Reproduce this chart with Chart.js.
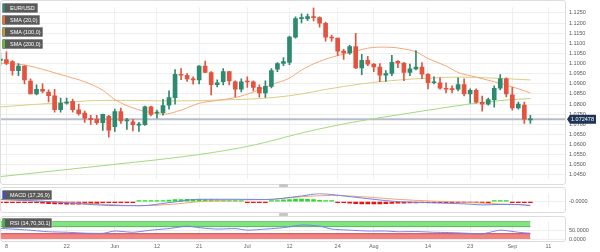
<!DOCTYPE html>
<html><head><meta charset="utf-8">
<script src="https://cdn.jsdelivr.net/npm/chart.js@4.4.0/dist/chart.umd.min.js"></script>
<style>
html,body{margin:0;padding:0;background:#fff;}
#wrap{position:relative;width:600px;height:252px;overflow:hidden;font-family:"Liberation Sans",Arial,sans-serif;}
canvas{position:absolute;left:0;}
.frame{position:absolute;left:0;width:566px;border:1px solid #dddddd;border-radius:3px;box-sizing:border-box;pointer-events:none;}
.leg{position:absolute;left:2px;height:10px;background:#5a5a5a;color:#fff;font-size:5.5px;line-height:8px;padding-left:7px;box-sizing:border-box;border:1px solid #8c8c8c;border-radius:1px;white-space:nowrap;}
.leg i{position:absolute;left:0;top:0;bottom:0;width:2px;}
.handle{position:absolute;left:279px;width:9px;height:3px;background:#c6c6c6;border-radius:1px;}
</style></head><body>
<div id="wrap">
  <canvas id="main" width="600" height="186" style="top:0"></canvas>
  <canvas id="macd" width="600" height="28" style="top:186px"></canvas>
  <canvas id="rsi" width="600" height="38" style="top:214px"></canvas>
  <div class="frame" style="top:0;height:185px"></div>
  <div class="frame" style="top:187px;height:26px"></div>
  <div class="frame" style="top:216px;height:26px"></div>
  <div class="handle" style="top:184px"></div>
  <div class="handle" style="top:213px"></div>
  <div class="leg" style="top:3px;width:36px"><i style="background:#2a8a78"></i>EUR/USD</div>
  <div class="leg" style="top:15px;width:38px"><i style="background:#f07020"></i>SMA (20,0)</div>
  <div class="leg" style="top:27px;width:41px"><i style="background:#b8a020"></i>SMA (100,0)</div>
  <div class="leg" style="top:39px;width:41px"><i style="background:#60c020"></i>SMA (200,0)</div>
  <div class="leg" style="top:190px;width:50px"><i style="background:#3050f0"></i>MACD (17,26,9)</div>
  <div class="leg" style="top:218px;width:50px"><i style="background:#30c030"></i>RSI (14,70,30,1)</div>
</div>
<script>
// ---------- DATA ----------
const dates = [
 "05-05","05-08","05-09","05-10","05-11","05-12","05-15","05-16","05-17","05-18","05-19","05-22","05-23","05-24","05-25","05-26","05-29","05-30","05-31",
 "06-01","06-02","06-05","06-06","06-07","06-08","06-09","06-12","06-13","06-14","06-15","06-16","06-19","06-20","06-21","06-22","06-23","06-26","06-27","06-28","06-29","06-30",
 "07-03","07-04","07-05","07-06","07-07","07-10","07-11","07-12","07-13","07-14","07-17","07-18","07-19","07-20","07-21","07-24","07-25","07-26","07-27","07-28","07-31",
 "08-01","08-02","08-03","08-04","08-07","08-08","08-09","08-10","08-11","08-14","08-15","08-16","08-17","08-18","08-21","08-22","08-23","08-24","08-25","08-28","08-29","08-30","08-31",
 "09-01","09-04","09-05","09-06","09-07","09-08","09-11","09-12","09-13","09-14"];

const opens = [1.1015,1.1020,1.1010,1.0965,1.0988,1.0914,1.0850,1.0873,1.0859,1.0841,1.0772,1.0805,1.0813,1.0772,1.0755,1.0730,1.0726,1.0708,1.0740,
 1.0689,1.0763,1.0717,1.0712,1.0696,1.0698,1.0786,1.0756,1.0758,1.0795,1.0832,1.0947,1.0942,1.0922,1.0919,1.0988,1.0956,1.0896,1.0910,1.0960,1.0910,1.0873,
 1.0910,1.0910,1.0882,1.0855,1.0887,1.0972,1.1000,1.1006,1.1130,1.1222,1.1222,1.1232,1.1227,1.1199,1.1130,1.1126,1.1061,1.1052,1.1084,1.0979,1.1016,
 1.0997,1.0983,1.0942,1.0951,1.1011,1.1002,1.0956,1.0974,1.0983,1.0947,1.0905,1.0905,1.0878,1.0873,1.0873,1.0896,1.0850,1.0868,1.0809,1.0800,1.0822,1.0878,1.0924,
 1.0845,1.0781,1.0795,1.0722];
const highs = [1.1050,1.1058,1.1015,1.1000,1.0990,1.0925,1.0895,1.0900,1.0870,1.0873,1.0830,1.0830,1.0825,1.0800,1.0765,1.0745,1.0745,1.0750,1.0745,
 1.0775,1.0780,1.0730,1.0725,1.0710,1.0790,1.0790,1.0770,1.0823,1.0865,1.0970,1.0975,1.0950,1.0935,1.0990,1.1012,1.0960,1.0920,1.0975,1.0962,1.0915,1.0925,
 1.0935,1.0915,1.0895,1.0915,1.0975,1.1005,1.1030,1.1135,1.1230,1.1245,1.1244,1.1275,1.1230,1.1205,1.1140,1.1126,1.1070,1.1090,1.1149,1.1045,1.1035,
 1.1000,1.1000,1.0965,1.1040,1.1015,1.1005,1.0997,1.1064,1.1005,1.0950,1.0935,1.0930,1.0905,1.0890,1.0930,1.0925,1.0875,1.0875,1.0840,1.0830,1.0890,1.0945,1.0930,
 1.0882,1.0810,1.0810,1.0745];
const lows = [1.0990,1.0995,1.0942,1.0940,1.0900,1.0850,1.0845,1.0855,1.0810,1.0760,1.0760,1.0800,1.0760,1.0745,1.0710,1.0700,1.0700,1.0670,1.0636,
 1.0665,1.0705,1.0675,1.0667,1.0665,1.0695,1.0741,1.0730,1.0745,1.0775,1.0800,1.0920,1.0912,1.0898,1.0900,1.0955,1.0845,1.0885,1.0895,1.0895,1.0835,1.0860,
 1.0882,1.0865,1.0834,1.0833,1.0880,1.0960,1.0990,1.0995,1.1125,1.1200,1.1212,1.1210,1.1180,1.1110,1.1110,1.1040,1.1020,1.1045,1.0975,1.0945,1.0990,
 1.0960,1.0910,1.0912,1.0940,1.0980,1.0915,1.0940,1.0968,1.0925,1.0875,1.0900,1.0873,1.0855,1.0855,1.0865,1.0840,1.0805,1.0805,1.0765,1.0795,1.0785,1.0870,1.0835,
 1.0770,1.0775,1.0705,1.0705];
const closes = [1.1022,1.1002,1.0965,1.0988,1.0919,1.0850,1.0873,1.0864,1.0841,1.0772,1.0804,1.0809,1.0772,1.0753,1.0730,1.0723,1.0708,1.0749,1.0671,
 1.0763,1.0717,1.0719,1.0698,1.0699,1.0786,1.0749,1.0758,1.0792,1.0832,1.0947,1.0942,1.0924,1.0919,1.0988,1.0956,1.0896,1.0905,1.0960,1.0914,1.0873,1.0910,
 1.0909,1.0882,1.0855,1.0887,1.0965,1.1000,1.1010,1.1130,1.1222,1.1224,1.1232,1.1227,1.1199,1.1130,1.1126,1.1061,1.1052,1.1084,1.0979,1.1016,1.0997,
 1.0983,1.0942,1.0951,1.1006,1.1002,1.0956,1.0974,1.0983,1.0947,1.0905,1.0910,1.0878,1.0873,1.0871,1.0896,1.0850,1.0868,1.0809,1.0800,1.0822,1.0878,1.0924,1.0850,
 1.0781,1.0800,1.0726,1.0725];
const lastPrice = 1.072478;

const sma20Idx = [0,4,8,11,14,17,19,22,25,27,30,33,36,39,42,45,48,50,53,56,59,61,63,65,67,69,71,74,76,79,82,85,88];
const sma20Val = [1.1002,1.0993,1.0963,1.0937,1.0910,1.0868,1.0822,1.0781,1.0758,1.0750,1.0770,1.0804,1.0818,1.0832,1.0859,1.0896,1.0928,1.0968,1.1011,1.1039,1.1061,1.1076,1.1081,1.1080,1.1072,1.1058,1.1025,1.0988,1.0956,1.0933,1.0910,1.0885,1.0855];
const sma100Idx = [0,11,17,22,28,39,43,48,50,54,60,65,71,76,82,88];
const sma100Val = [1.0786,1.0809,1.0818,1.0818,1.0815,1.0822,1.0827,1.0841,1.0850,1.0872,1.0900,1.0916,1.0928,1.0933,1.0928,1.0919];
const sma200Idx = [0,17,33,42,50,55,60,65,70,75,80,84,88];
const sma200Val = [1.0442,1.0496,1.0551,1.0597,1.0657,1.0690,1.0718,1.0742,1.0765,1.0788,1.0808,1.0820,1.0827];

const macdIdx    = [0,9,18,23,29,33,39,44,50,53,55,58,61,64,66,72,78,80,83,86,88];
const macdVal    = [0.0022,-0.0003,-0.0038,-0.0041,-0.0003,0.0022,0.0022,0.0020,0.0054,0.0076,0.0068,0.0048,0.0028,0.0009,-0.0001,-0.0013,-0.0025,-0.0033,-0.0028,-0.0029,-0.0041];
const signalIdx  = [0,9,18,23,29,33,39,44,50,55,61,66,72,78,83,88];
const signalVal  = [0.0018,-0.0003,-0.0029,-0.0041,-0.0024,-0.0001,0.0016,0.0018,0.0046,0.0059,0.0043,0.0021,0.0004,-0.0009,-0.0024,-0.0034];
const histVal = [-0.0004,-0.0004,-0.0004,-0.0004,-0.0004,-0.0010,-0.0012,-0.0015,-0.0020,-0.0022,-0.0024,-0.0025,-0.0025,-0.0025,-0.0024,-0.0022,-0.0020,
 -0.0012,-0.0008,-0.0006,-0.0005,-0.0004,-0.0004,0.0003,0.0004,0.0005,0.0006,0.0008,0.0014,0.0018,0.0020,0.0022,0.0022,0.0022,0.0020,0.0018,0.0016,0.0014,
 0.0008,0.0006,0.0004,-0.0003,-0.0004,-0.0004,-0.0003,0.0004,0.0010,0.0016,0.0020,0.0024,0.0024,0.0022,0.0018,0.0012,0.0006,0.0004,-0.0003,
 -0.0008,-0.0015,-0.0020,-0.0022,-0.0024,-0.0024,-0.0022,-0.0020,-0.0018,-0.0016,-0.0015,-0.0014,-0.0013,-0.0012,-0.0012,-0.0010,
 -0.0009,-0.0008,-0.0008,-0.0007,-0.0006,-0.0006,-0.0005,-0.0005,-0.0004,0.0002,0.0003,0.0002,-0.0004,-0.0005,-0.0006,-0.0007];

const rsiIdx = [0,4,8,11,14,17,19,22,25,28,31,33,36,39,41,44,47,50,53,55,58,61,64,66,69,72,75,77,80,83,86,88];
const rsiVal = [60,52,41,38,33,32,45,38,50,59,73,64,56,59,50,56,64,79,73,56,50,45,45,41,42,38,36,33,29,50,38,32];
const rsiZones = [100,70,30,0];

const priceTicks = [1.045,1.050,1.055,1.060,1.065,1.070,1.075,1.080,1.085,1.090,1.095,1.100,1.105,1.110,1.115,1.120,1.125];
const tickDates  = ["05-08","05-22","06-01","06-12","06-21","07-03","07-12","07-24","08-01","08-14","08-23","09-01","09-11"];
const tickLabels = ["8","22","Jun","12","21","Jul","12","24","Aug","14","23","Sep","11"];

// ---------- CHARTS ----------
const GREEN = '#2e8a6f', RED = '#e2543f';
const FONT = {family:'"Liberation Sans", Arial, sans-serif', size:5.5};
const X_MIN = 0.1, X_MAX = 93.75;
const xTickVals = tickDates.map(d => dates.indexOf(d));
const n = closes.length;
const candleIdx = dates.slice(0, n).map((d, i) => i);
const pts = (xs, ys) => xs.map((x, i) => ({x, y: ys[i]}));
const candleColor = c => closes[c.dataIndex] >= opens[c.dataIndex] ? GREEN : RED;

function xScale(labels) {
  return {
    type:'linear', min:X_MIN, max:X_MAX, offset:false,
    grid:{color:'#eeeeee', drawTicks:false, offset:false},
    border:{display:false},
    afterBuildTicks: s => { s.ticks = xTickVals.map(v => ({value:v})); },
    ticks:{display:labels, autoSkip:false, maxRotation:0, padding:4, color:'#666', font:FONT,
           callback:(v, i) => tickLabels[i]},
    afterFit: s => { s.height = labels ? 13 : 0; }
  };
}
function yScale(min, max, ticks, fmt) {
  return {
    type:'linear', position:'right', min, max,
    grid:{color:'#eeeeee', drawTicks:false}, border:{display:false},
    afterBuildTicks: s => { s.ticks = ticks.map(v => ({value:v})); },
    ticks:{padding:4, color:'#555', font:FONT, callback:fmt},
    afterFit: s => { s.width = 35; }
  };
}
const common = {responsive:false, animation:false, plugins:{legend:{display:false}, tooltip:{enabled:false}}};

const tagPlugin = {
  id:'tag',
  afterDraw(chart) {
    const {ctx, chartArea, scales:{y}} = chart;
    const py = y.getPixelForValue(lastPrice);
    const x0 = chartArea.right + 2;
    ctx.save();
    ctx.fillStyle = '#1f3557';
    ctx.beginPath();
    ctx.moveTo(x0, py); ctx.lineTo(x0 + 3, py - 4.5); ctx.lineTo(x0 + 29, py - 4.5);
    ctx.lineTo(x0 + 29, py + 4.5); ctx.lineTo(x0 + 3, py + 4.5); ctx.closePath(); ctx.fill();
    ctx.fillStyle = '#fff'; ctx.font = '5.5px "Liberation Sans", Arial'; ctx.textBaseline = 'middle';
    ctx.fillText(lastPrice.toFixed(6), x0 + 4, py + 0.5);
    ctx.restore();
  }
};

new Chart(document.getElementById('main'), {
  type:'bar',
  data:{datasets:[
    {type:'line', data:[{x:X_MIN, y:lastPrice},{x:X_MAX, y:lastPrice}], borderColor:'#b7bdcc', borderWidth:2, pointRadius:0, order:9},
    {type:'line', data:pts(sma200Idx, sma200Val), borderColor:'#a3d97f', borderWidth:1, pointRadius:0, cubicInterpolationMode:'monotone', order:8},
    {type:'line', data:pts(sma100Idx, sma100Val), borderColor:'#dccd83', borderWidth:1, pointRadius:0, cubicInterpolationMode:'monotone', order:7},
    {type:'line', data:pts(sma20Idx, sma20Val), borderColor:'#f6a877', borderWidth:1, pointRadius:0, cubicInterpolationMode:'monotone', order:6},
    {data:candleIdx.map(i => ({x:i, y:[lows[i], highs[i]]})), backgroundColor:candleColor, barThickness:1, grouped:false, order:2},
    {data:candleIdx.map(i => ({x:i, y:[opens[i], closes[i]]})), backgroundColor:candleColor, barThickness:4, minBarLength:1, grouped:false, order:1}
  ]},
  options:{...common,
    layout:{padding:{left:1, right:0, top:0, bottom:2}},
    scales:{x:xScale(false), y:yScale(1.04316, 1.12776, priceTicks, v => v.toFixed(4))}
  },
  plugins:[tagPlugin]
});

new Chart(document.getElementById('macd'), {
  type:'bar',
  data:{datasets:[
    {type:'line', data:pts(macdIdx, macdVal), borderColor:'#6f84f2', borderWidth:1, pointRadius:0, cubicInterpolationMode:'monotone', order:1},
    {type:'line', data:pts(signalIdx, signalVal), borderColor:'#f5a46e', borderWidth:1, pointRadius:0, cubicInterpolationMode:'monotone', order:2},
    {data:candleIdx.map(i => ({x:i, y:histVal[i]})), backgroundColor:c => histVal[c.dataIndex] >= 0 ? '#22dd22' : '#ee1111',
     barThickness:4, minBarLength:1, grouped:false, order:3}
  ]},
  options:{...common,
    layout:{padding:{left:1, right:0, top:1, bottom:2}},
    scales:{x:xScale(false), y:yScale(-0.005, 0.008, [0], () => '-0.0000')}
  }
});

const zoneLine = v => [{x:0, y:v}, {x:n - 1, y:v}];
new Chart(document.getElementById('rsi'), {
  type:'line',
  data:{datasets:[
    {data:pts(rsiIdx, rsiVal), borderColor:'#7083f0', borderWidth:1, pointRadius:0, tension:0.2, order:1},
    {data:zoneLine(rsiZones[0]), borderColor:'#4a9a4a', borderWidth:1, pointRadius:0, fill:'+1', backgroundColor:'#7fe57f', order:3},
    {data:zoneLine(rsiZones[1]), borderColor:'#3f7f3f', borderWidth:1, pointRadius:0, order:3},
    {data:zoneLine(rsiZones[2]), borderColor:'#c84a4a', borderWidth:1, pointRadius:0, fill:'+1', backgroundColor:'#f38282', order:3},
    {data:zoneLine(rsiZones[3]), borderColor:'#7a3a3a', borderWidth:1, pointRadius:0, order:3}
  ]},
  options:{...common,
    layout:{padding:{left:1, right:0, top:3, bottom:0}},
    scales:{x:xScale(true), y:yScale(0, 100, [0, 50], v => v.toFixed(4))}
  }
});
</script>
</body></html>
